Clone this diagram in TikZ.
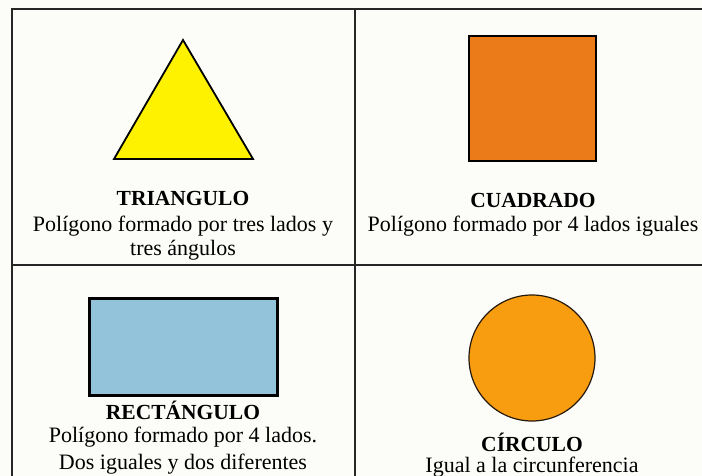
\documentclass[tikz,border=0pt]{standalone}
\usepackage{fontspec}
\setmainfont{Liberation Serif}
\begin{document}
\begin{tikzpicture}[x=1pt,y=-1pt,
  gridline/.style={draw=black!85, line width=1.3pt},
  title/.style={font=\fontsize{21.5}{25}\selectfont\bfseries, inner sep=0pt, anchor=center},
  desc/.style={font=\fontsize{22}{26}\selectfont, inner sep=0pt, anchor=center}]
\definecolor{bgc}{HTML}{FCFCF8}
\definecolor{triy}{HTML}{FFF200}
\definecolor{sqo}{HTML}{EB7A18}
\definecolor{recb}{HTML}{92C3DA}
\definecolor{circo}{HTML}{F99D10}
\useasboundingbox[fill=bgc] (0,0) rectangle (702,476);
% grid
\coordinate (tl) at (12,9);
\coordinate (tr) at (702,9);
\coordinate (bl) at (12,476);
\coordinate (mt) at (355,9);
\coordinate (mb) at (355,476);
\coordinate (ml) at (12,265);
\coordinate (mr) at (702,265);
\draw[gridline] (tr) -- (tl) -- (bl);
\draw[gridline] (mt) -- (mb);
\draw[gridline] (ml) -- (mr);
% triangle
\draw[fill=triy, line width=1.8pt, line join=miter] (183,40) -- (114,159) -- (253,159) -- cycle;
\node[title] (t1) at (183,198) {TRIANGULO};
\node[desc] (d1a) at (183,226) {Polígono formado por tres lados y};
\node[desc] (d1b) at (183,250) {tres ángulos};
% square
\draw[fill=sqo, line width=2.4pt] (469,36) rectangle (596,161);
\node[title] (t2) at (533,200) {CUADRADO};
\node[desc] (d2) at (533,226) {Polígono formado por 4 lados iguales};
% rectangle
\draw[fill=recb, line width=3pt] (89,298) rectangle (277,395);
\node[title] (t3) at (183,410) {RECTÁNGULO};
\node[desc] (d3a) at (183,437) {Polígono formado por 4 lados.};
\node[desc] (d3b) at (183,464) {Dos iguales y dos diferentes};
% circle
\draw[fill=circo, draw=black!80!brown, line width=1.2pt] (532,358) circle (63);
\node[title] (t4) at (532,442) {CÍRCULO};
\node[desc] (d4) at (532,467) {Igual a la circunferencia};
\end{tikzpicture}
\end{document}
